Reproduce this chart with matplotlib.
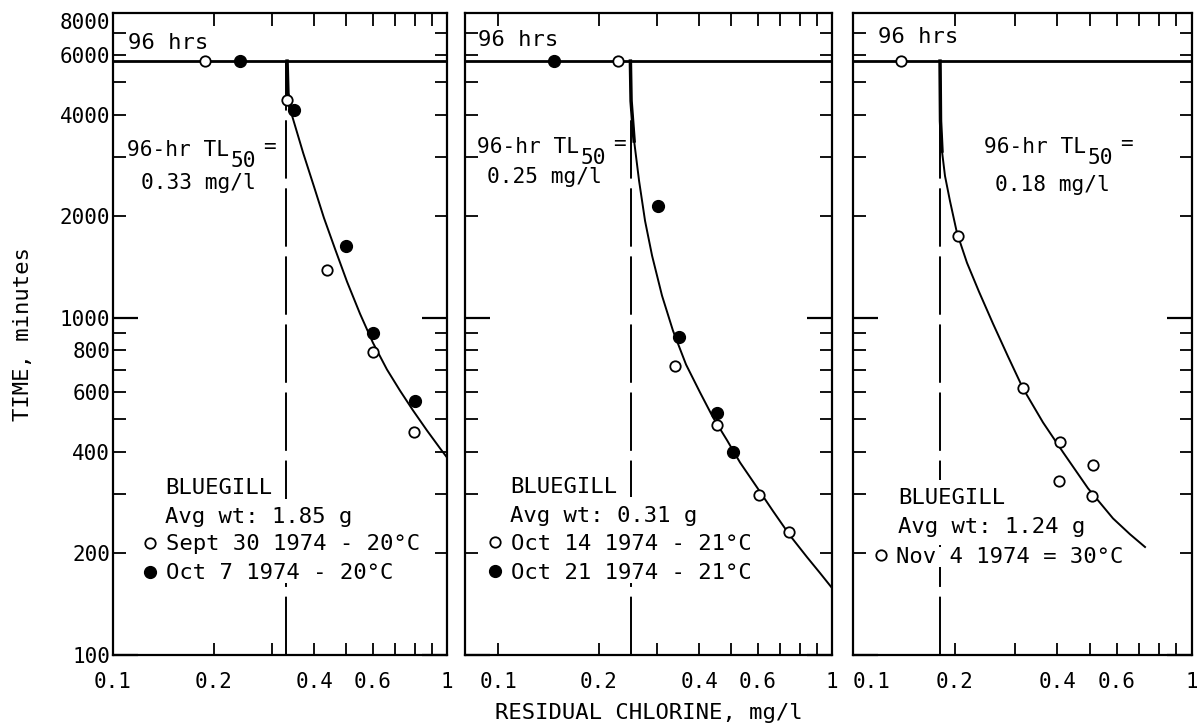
import matplotlib
matplotlib.use("Agg")
import matplotlib.pyplot as plt
from matplotlib.ticker import FixedLocator, FixedFormatter, NullFormatter
from matplotlib.lines import Line2D

plt.rcParams['font.family'] = ['DejaVu Sans Mono']

# Survival time in minutes vs residual chlorine (mg/l)
HRS96 = 5760

# panel 1 : Sept 30 (open) / Oct 7 (filled) 1974, 20 C
p1_open_x = [0.188, 0.332, 0.437, 0.602, 0.797]
p1_open_y = [5760, 4416, 1387, 793, 457]
p1_fill_x = [0.240, 0.348, 0.500, 0.600, 0.800]
p1_fill_y = [5760, 4125, 1634, 903, 568]
p1_curve_x = [0.332, 0.334, 0.339, 0.346, 0.371, 0.400, 0.428, 0.462, 0.502, 0.549,
              0.600, 0.661, 0.723, 0.791, 0.871, 0.953, 1.0]
p1_curve_y = [5760, 4631, 4153, 3880, 3077, 2441, 1977, 1600, 1278, 1027,
              843, 702, 608, 531, 463, 410, 385]
p1_tl50 = 0.33

# panel 2 : Oct 14 (open) / Oct 21 (filled) 1974, 21 C
p2_open_x = [0.228, 0.339, 0.452, 0.606, 0.745]
p2_open_y = [5760, 718, 479, 299, 231]
p2_fill_x = [0.1474, 0.302, 0.348, 0.454, 0.506]
p2_fill_y = [5760, 2144, 874, 523, 401]
p2_curve_x = [0.249, 0.2502, 0.2555, 0.2644, 0.2755, 0.2892, 0.3097, 0.334, 0.3655,
              0.4026, 0.4403, 0.485, 0.5305, 0.5963, 0.6659, 0.7486, 0.8419, 0.9207, 1.0]
p2_curve_y = [5760, 4385, 3340, 2543, 1936, 1526, 1162, 915, 726,
              600, 506, 433, 372, 314, 267, 226, 195, 175, 158]
p2_tl50 = 0.25

# panel 3 : Nov 4 1974, 30 C
p3_open_x = [0.139, 0.204, 0.317, 0.408, 0.512, 0.405, 0.506]
p3_open_y = [5760, 1748, 618, 428, 367, 327, 297]
p3_curve_x = [0.1806, 0.1812, 0.1830, 0.1868, 0.1932, 0.2026, 0.2169, 0.2353, 0.2588,
              0.2866, 0.3173, 0.3635, 0.4165, 0.4934, 0.5848, 0.6563, 0.7268]
p3_curve_y = [5760, 3828, 3119, 2631, 2219, 1784, 1454, 1194, 960,
              767, 617, 489, 399, 312, 254, 228, 209]
p3_tl50 = 0.18

xtick_vals = [0.1, 0.2, 0.3, 0.4, 0.5, 0.6, 0.7, 0.8, 0.9, 1.0]
xtick_labels = ['0.1', '0.2', '', '0.4', '', '0.6', '', '', '', '1']
ymaj_vals = [100, 1000]
ymaj_labels = ['100', '1000']
ymin_vals = [200, 300, 400, 500, 600, 700, 800, 900, 2000, 3000, 4000, 5000, 6000, 7000, 8000]
ymin_labels = ['200', '', '400', '', '600', '', '800', '', '2000', '', '4000', '', '6000', '', '8000']

fig = plt.figure(figsize=(11.97, 7.27), dpi=100)
W, H = 1197, 727
bot, top = 655, 13
boxes = [(113, 447), (465, 832), (853, 1192)]
xlims = [(0.1, 1.0), (0.0796, 1.0), (0.1, 1.0)]
axes = []
for (l, r), xl in zip(boxes, xlims):
    ax = fig.add_axes([l / W, 1 - bot / H, (r - l) / W, (bot - top) / H])
    ax.set_xscale('log')
    ax.set_yscale('log')
    ax.set_xlim(*xl)
    ax.set_ylim(100, 8000)
    ax.xaxis.set_major_locator(FixedLocator(xtick_vals))
    ax.xaxis.set_major_formatter(FixedFormatter(xtick_labels))
    ax.xaxis.set_minor_locator(FixedLocator([]))
    ax.yaxis.set_major_locator(FixedLocator(ymaj_vals))
    ax.yaxis.set_minor_locator(FixedLocator(ymin_vals))
    ax.tick_params(axis='x', which='both', direction='in', top=True, length=9, width=1.3,
                   labelsize=15, pad=12)
    ax.tick_params(axis='y', which='major', direction='in', right=True, length=18, width=1.6,
                   labelsize=15, pad=2)
    ax.tick_params(axis='y', which='minor', direction='in', right=True, length=9, width=1.3,
                   labelsize=15, pad=2)
    for s in ax.spines.values():
        s.set_linewidth(1.6)
    axes.append(ax)

axes[0].yaxis.set_major_formatter(FixedFormatter(ymaj_labels))
axes[0].yaxis.set_minor_formatter(FixedFormatter(ymin_labels))
for ax in axes[1:]:
    ax.yaxis.set_major_formatter(NullFormatter())
    ax.yaxis.set_minor_formatter(NullFormatter())

ocirc = dict(marker='o', ms=7.5, mfc='white', mec='black', mew=1.3, ls='none', zorder=5)
fcirc = dict(marker='o', ms=8.5, mfc='black', mec='black', ls='none', zorder=5)

panels = [
    (p1_curve_x, p1_curve_y, p1_tl50, p1_open_x, p1_open_y, p1_fill_x, p1_fill_y),
    (p2_curve_x, p2_curve_y, p2_tl50, p2_open_x, p2_open_y, p2_fill_x, p2_fill_y),
    (p3_curve_x, p3_curve_y, p3_tl50, p3_open_x, p3_open_y, None, None),
]
for ax, (cx, cy, tl, ox, oy, fx, fy) in zip(axes, panels):
    ax.axhline(HRS96, color='black', lw=2.0)
    ax.plot([tl, tl], [100, HRS96], color='black', lw=1.4, dashes=[30, 5])
    ax.plot(cx, cy, color='black', lw=1.4)
    ax.plot(cx[:3], cy[:3], color='black', lw=2.5)
    ax.plot(ox, oy, **ocirc)
    if fx is not None:
        ax.plot(fx, fy, **fcirc)

fig.canvas.draw()
# crowded tick labels, nudge like the original
for lab in axes[0].yaxis.get_minorticklabels():
    if lab.get_text() == '8000':
        lab.set_verticalalignment('top')
for lab in axes[2].xaxis.get_majorticklabels():
    if lab.get_text() == '0.1':
        lab.set_horizontalalignment('left')

# annotations
fs = 15.2
texts_96 = [(0.045, 0.953), (0.035, 0.958), (0.074, 0.963)]
for ax, (tx, ty) in zip(axes, texts_96):
    ax.text(tx, ty, '96 hrs', transform=ax.transAxes, fontsize=16, va='center', ha='left')

tl_text = [
    ('0.33 mg/l', (0.042, 0.787), (0.256, 0.735)),
    ('0.25 mg/l', (0.033, 0.791), (0.215, 0.745)),
    ('0.18 mg/l', (0.386, 0.791), (0.587, 0.732)),
]
for ax, (val, p1, p2) in zip(axes, tl_text):
    t1 = ax.text(p1[0], p1[1], '96-hr TL', transform=ax.transAxes, fontsize=fs,
                 va='center', ha='left')
    t2 = ax.annotate('50', xy=(1, 0.5), xycoords=t1, xytext=(1, -8),
                     textcoords='offset points', fontsize=fs, va='center', ha='left')
    ax.annotate('=', xy=(1, 0.5), xycoords=(t2, t1), xytext=(5, 2),
                textcoords='offset points', fontsize=fs, va='center', ha='left')
    ax.text(p2[0], p2[1], val, transform=ax.transAxes, fontsize=fs, va='center', ha='center')

legend_info = [
    ('Avg wt: 1.85 g', ['Sept 30 1974 - 20°C', 'Oct 7 1974 - 20°C'], 0.156, 0.26, (0.094, 0.188)),
    ('Avg wt: 0.31 g', ['Oct 14 1974 - 21°C', 'Oct 21 1974 - 21°C'], 0.1226, 0.262, (0.067, 0.189)),
    ('Avg wt: 1.24 g', ['Nov 4 1974 = 30°C'], 0.133, 0.2445, (0.066, 0.169)),
]
wbox = dict(facecolor='white', edgecolor='none', pad=6)
for ax, (wt, labs, lx, ly, anchor) in zip(axes, legend_info):
    ax.text(lx, ly, 'BLUEGILL', transform=ax.transAxes, fontsize=16, va='center', ha='left',
            bbox=wbox, zorder=6)
    ax.text(lx, ly - 0.045, wt, transform=ax.transAxes, fontsize=16, va='center', ha='left',
            bbox=wbox, zorder=6)
    hs = [Line2D([], [], **ocirc), Line2D([], [], **fcirc)][:len(labs)]
    leg = ax.legend(hs, labs, loc='upper left', bbox_to_anchor=anchor, frameon=True,
                    facecolor='white', edgecolor='none', framealpha=1, fancybox=False,
                    fontsize=16, handlelength=0.5, handletextpad=0.45, labelspacing=0.41,
                    borderpad=0, borderaxespad=0)
    leg.set_zorder(7)

axes[0].set_ylabel('TIME, minutes', fontsize=16, labelpad=19)
axes[1].set_xlabel('RESIDUAL CHLORINE, mg/l', fontsize=16, labelpad=8)

fig.savefig('out.png', dpi=100)
